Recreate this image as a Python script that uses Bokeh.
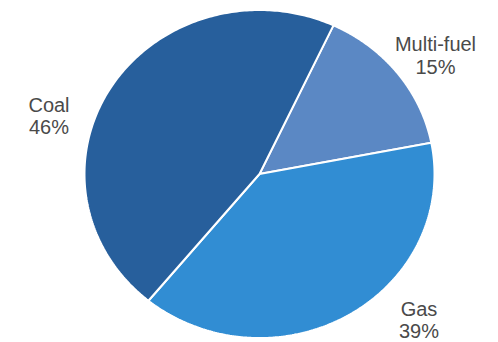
import numpy as np
from bokeh.plotting import figure
from bokeh.models import ColumnDataSource
from bokeh.core.properties import value
from bokeh.embed import file_html
from bokeh.resources import INLINE

# ---- data ----
categories = ["Multi-fuel", "Gas", "Coal"]
shares = [15, 39, 46]
colors = ["#5b88c4", "#318dd3", "#275f9c"]

# ---- layout (pixels, y downwards; line centres) ----
W, H = 498, 342
CX, CY = 259, 173.5
RX, RY = 175, 164
START_DEG = 25.0
label_pos = {
    "Multi-fuel": (435, 43.5, 66.5),
    "Gas": (418.5, 308, 330),
    "Coal": (48.5, 104, 126),
}

p = figure(width=W, height=H, x_range=(0, W), y_range=(0, H),
           output_backend="svg", toolbar_location=None, min_border=0)
p.axis.visible = False
p.grid.visible = False
p.outline_line_color = None
p.background_fill_color = "white"

total = float(sum(shares))
xs, ys = [], []
cum = 0.0
for s in shares:
    a0 = np.radians(START_DEG + 360.0 * cum / total)
    a1 = np.radians(START_DEG + 360.0 * (cum + s) / total)
    t = np.linspace(a0, a1, 200)
    px = np.concatenate([[CX], CX + RX * np.sin(t), [CX]])
    py = np.concatenate([[CY], CY - RY * np.cos(t), [CY]])
    xs.append(list(px))
    ys.append(list(H - py))
    cum += s

src = ColumnDataSource(dict(xs=xs, ys=ys, color=colors, cat=categories))
p.patches("xs", "ys", source=src, fill_color="color", line_color="white",
          line_width=2)

lx, ly1, ly2, t1, t2 = [], [], [], [], []
for c, s in zip(categories, shares):
    x, b1, b2 = label_pos[c]
    lx.append(x); ly1.append(H - b1); ly2.append(H - b2)
    t1.append(c); t2.append(f"{s}%")

for yy, tt in ((ly1, t1), (ly2, t2)):
    p.text(x=lx, y=yy, text=tt, text_align="center", text_baseline="middle",
           text_font=value("Liberation Sans"), text_font_size="20px",
           text_color="#4a4a4a")

open("out.html", "w").write(file_html(p, INLINE))
